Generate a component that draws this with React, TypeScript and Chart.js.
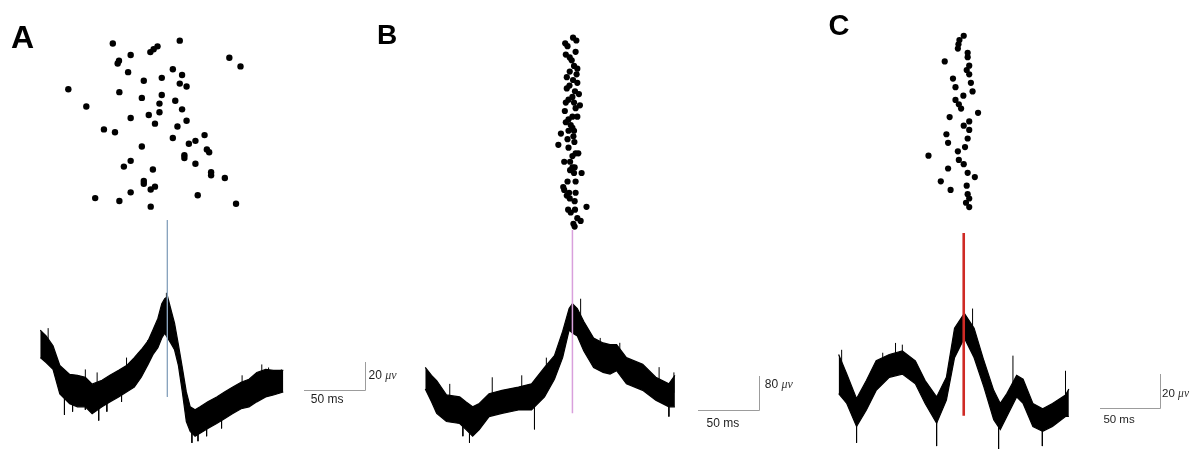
import React, { useEffect, useRef } from "react";
import { Chart, registerables } from "chart.js";
Chart.register(...registerables);

// ---------- Panel A ----------
const rasterATrials = Array.from({ length: 59 }, (_, i) => i + 1);
const rasterATimes = [10.2, -44.9, -8.1, -11.3, -14.0, -30.2, 51.0, -39.8, -40.9, 60.2, 4.5, -32.3, 12.1, -4.6, -19.4, 10.2, 15.8, -81.5, -39.5, -4.6, -21.0, 6.5, -6.5, -66.7, 12.1, -6.5, -15.3, -30.2, 15.8, -10.2, 8.3, -52.2, -43.1, 30.6, 4.5, 23.1, 17.7, -21.0, 32.5, 34.4, 14.0, 14.0, -30.2, 23.1, -35.8, -11.9, 36.0, 36.0, 47.3, -19.4, -19.4, -10.2, -13.7, -30.2, 25.0, -59.4, -39.5, 56.5, -13.7];
const traceATimes = [-104.6, -99.8, -94.1, -88.5, -80.4, -74.0, -67.5, -61.9, -53.8, -47.3, -40.1, -33.6, -27.2, -21.5, -15.9, -11.9, -7.8, -4.6, -2.2, 0.2, 2.7, 5.9, 9.1, 12.3, 15.6, 18.8, 22.8, 26.9, 33.3, 40.6, 47.0, 53.5, 60.7, 67.2, 73.6, 80.9, 87.3, 95.4];
const traceAUpper = [43.4, 39.1, 31.9, 17.6, 11.2, 10.5, 9.1, 4.1, 6.9, 10.5, 14.1, 17.6, 23.4, 29.1, 35.5, 43.4, 51.9, 62.6, 66.2, 67.6, 59.1, 48.4, 32.6, 16.2, -1.6, -12.4, -14.5, -12.4, -8.8, -5.2, -1.6, 1.9, 5.5, 7.6, 12.6, 14.8, 14.1, 14.1];
const traceALower = [23.4, 19.8, 14.8, -3.1, -10.2, -12.4, -12.4, -17.4, -12.4, -8.8, -5.2, -1.6, 1.9, 9.1, 18.4, 25.5, 30.5, 37.6, 41.2, 37.6, 34.1, 29.1, 17.6, -1.6, -23.1, -30.2, -33.8, -31.6, -28.1, -24.5, -21.0, -17.4, -13.8, -12.4, -8.8, -5.2, -3.8, -1.6];
const spikesATimes = [-84.7, -78.0, -67.5, -56.5, -49.8, -37.7, 20.2, 25.2, 32.3, 44.6, -98.1, -67.5, -57.8, -33.6, -23.9, -16.1, -0.8, 61.5, 77.7, 83.3, 93.8];
const spikesABase = [3, 0, -1.6, -3, 0, 5, -22, -22, -18, -12, 30, -1.6, -3, 8, 17, 27, 52, -4, 3, 5, 6];
const spikesATip = [-18.3, -15.9, -14.5, -22.4, -15.9, -8.8, -38.6, -37.4, -33.8, -28.1, 44.8, 14.8, 12.6, 23.4, 26.9, 36.2, 70.5, 10.5, 18.4, 16.2, 14.8];

// ---------- Panel B ----------
const rasterBTrials = [1, 2, 3, 4, 6, 7, 8, 9, 11, 12, 13, 14, 15, 16, 17, 18, 19, 20, 21, 22, 23, 24, 24, 25, 26, 27, 29, 29, 30, 31, 32, 33, 34, 34, 35, 37, 36, 38, 39, 40, 42, 42, 43, 45, 45, 47, 47, 48, 49, 49, 52, 52, 54, 55, 56, 56, 57, 58, 59, 61, 62, 62, 63, 65, 66, 67, 68];
const rasterBTimes = [0.5, 3.2, -5.9, -4.0, 2.6, -5.4, -2.2, -0.6, 1.3, 4.0, -2.2, 3.4, -4.6, 0.5, 4.0, -2.4, -4.6, 2.1, 5.3, 0, -3.2, -5.4, 1.3, 6.1, 2.6, -6.2, 0, 4.0, -3.2, -5.4, -1.4, 0, -3.2, 1.3, -9.4, -4.0, 0.8, 1.6, -11.5, -3.2, 2.6, 4.8, 0, -6.7, -1.9, 0, 1.8, -1.9, 7.5, 1.3, -4.0, 2.6, -7.5, -6.7, -2.7, 2.6, -4.6, -2.2, 1.8, 11.5, -3.5, 2.1, -1.4, 4.0, 6.7, 0.8, 1.8];
const traceBTimes = [-120.2, -115.1, -110.9, -102.9, -92.1, -87.1, -81.5, -76.1, -68.1, -57.5, -44.1, -33.4, -22.8, -14.7, -8.0, -2.7, 0, 4.0, 9.3, 17.3, 25.1, 30.7, 36.1, 44.1, 57.4, 68.1, 78.8, 83.7];
const traceBUpper = [99.0, 80.7, 68.6, 35.0, 30.4, 19.0, 7.5, 15.1, 37.9, 45.7, 53.3, 60.8, 99.0, 126.4, 182.9, 236.1, 247.5, 236.1, 205.7, 167.5, 156.1, 152.2, 152.2, 121.8, 106.5, 76.1, 60.8, 80.7];
const traceBLower = [48.7, 19.0, -7.8, -26.7, -31.3, -45.0, -61.0, -45.7, -15.3, -7.8, 0, 0, 30.4, 71.5, 121.8, 185.8, 179.0, 172.1, 137.1, 99.0, 87.5, 83.7, 91.4, 60.8, 45.7, 22.9, 7.5, 7.5];
const spikesBTimes = [-100.2, -84.1, -89.5, -65.5, -31.0, -41.4, -21.3, 6.7, 22.7, 38.7, 78.8, 82.9, 70.8];
const spikesBBase = [5, -10, -5, 15, 30, 27, 65, 200, 125, 120, 35, 40, 45];
const spikesBTip = [60.8, -76.3, -61.0, 76.1, -45.0, 80.7, 121.8, 258.9, 167.7, 156.3, -15.3, 87.5, 99.7];

// ---------- Panel C ----------
const rasterCTrials = Array.from({ length: 41 }, (_, i) => i + 1);
const rasterCTimes = [0, -3.6, -4.4, -4.9, 3.3, 3.3, -15.9, 4.6, 2.5, 4.6, -9.0, 6.0, -6.9, 7.4, -0.3, -6.9, -4.1, -2.2, 12.0, -11.8, 4.6, 0, 4.6, -14.5, 3.3, -13.1, 1.1, -4.9, -29.5, -4.1, 0, -13.1, 3.3, 9.3, -19.2, 2.5, -11.0, 3.3, 4.6, 1.9, 4.6];
const traceCTimes = [-104.7, -97.9, -89.7, -81.5, -73.3, -62.3, -51.4, -40.5, -32.3, -22.7, -14.5, -7.7, 0.5, 8.7, 16.9, 25.1, 30.6, 36.1, 44.3, 49.7, 57.9, 66.1, 74.3, 85.2, 88.0];
const traceCUpper = [31.4, 20.0, 5.7, 16.2, 27.7, 31.4, 33.4, 27.7, 16.2, 6.7, 18.1, 46.7, 55.3, 46.7, 27.7, 10.5, 2.9, 8.6, 19.3, 17.0, 2.9, -0.2, 2.9, 7.8, 11.3];
const traceCLower = [8.6, 2.9, -10.5, -0.9, 10.5, 18.1, 20.0, 14.3, 2.9, -8.6, 4.8, 29.5, 41.0, 29.5, 12.4, -6.6, -12.3, -4.7, 6.7, 2.9, -10.5, -13.3, -10.5, -4.7, -4.7];
const spikesCTimes = [-89.7, -22.7, 29.2, 65.8, 85.2, 41.2, 7.4, -51.4, -57.1, -102.2, -67.8];
const spikesCBase = [-2, -1, -4, -6, 3, 10, 42, 27, 26, 18, 22];
const spikesCTip = [-20.0, -21.9, -23.6, -21.9, 21.9, 30.7, 58.1, 37.1, 38.1, 34.1, 32.4];

// scale bar sizes and labels
const timeBarMs = 50;
const voltBars = [20, 80, 20];
const panelLetters = ["A", "B", "C"];

const H = 453;

type PanelCfg = {
  left: number; width: number;
  zeroPx: number; pxPerMs: number;
  uvZeroPx: number; pxPerUv: number;
  trial1Px: number; trialStep: number;
  rasterTrials: number[]; rasterTimes: number[]; dotR: number;
  traceTimes: number[]; upper: number[]; lower: number[];
  spikeTimes: number[]; spikeBase: number[]; spikeTip: number[];
  markerTop: number; markerBottom: number; markerColor: string; markerWidth: number;
  barX0: number; barDy: number;
  vLabelDx: number; vLabelDy: number; hLabelDx: number; hLabelDy: number; fontSize: number;
};

const scaleBarPlugin = {
  id: "scaleBar",
  afterDatasetsDraw(chart: any, _args: any, opts: any) {
    if (!opts || opts.x0 === undefined) return;
    const ctx = chart.ctx;
    const xs = chart.scales.x, ys = chart.scales.y;
    const x0 = xs.getPixelForValue(opts.x0);
    const x1 = xs.getPixelForValue(opts.x0 + opts.dx);
    const y0 = ys.getPixelForValue(0);
    const y1 = ys.getPixelForValue(opts.dy);
    ctx.save();
    ctx.strokeStyle = "#9c9c9c";
    ctx.lineWidth = 1;
    ctx.beginPath();
    ctx.moveTo(Math.round(x0), Math.round(y0) + 0.5);
    ctx.lineTo(Math.round(x1) + 0.5, Math.round(y0) + 0.5);
    ctx.lineTo(Math.round(x1) + 0.5, Math.round(y1));
    ctx.stroke();
    ctx.fillStyle = "#1e1e1e";
    ctx.textBaseline = "middle";
    const fs = opts.fontSize;
    const vy = (y0 + y1) / 2 + opts.vLabelDy;
    ctx.font = `${fs}px "Liberation Sans", Arial, sans-serif`;
    const num = `${opts.dy} `;
    ctx.fillText(num, x1 + opts.vLabelDx, vy);
    const w = ctx.measureText(num).width;
    ctx.font = `italic ${fs}px "Liberation Serif", "DejaVu Serif", serif`;
    ctx.fillStyle = "#333";
    ctx.fillText("\u03bcv", x1 + opts.vLabelDx + w, vy);
    ctx.fillStyle = "#1e1e1e";
    ctx.font = `${fs}px "Liberation Sans", Arial, sans-serif`;
    ctx.fillText(`${opts.dx} ms`, x0 + opts.hLabelDx, y0 + opts.hLabelDy);
    ctx.restore();
  },
};

function Panel({ cfg }: { cfg: PanelCfg }) {
  const ref = useRef<HTMLCanvasElement | null>(null);
  useEffect(() => {
    if (!ref.current) return;
    const xMin = -cfg.zeroPx / cfg.pxPerMs;
    const xMax = (cfg.width - cfg.zeroPx) / cfg.pxPerMs;
    const yMax = cfg.uvZeroPx / cfg.pxPerUv;
    const yMin = -(H - cfg.uvZeroPx) / cfg.pxPerUv;
    const rMin = 1 - cfg.trial1Px / cfg.trialStep;
    const rMax = 1 + (H - cfg.trial1Px) / cfg.trialStep;
    const upper = cfg.traceTimes.map((t, i) => ({ x: t, y: cfg.upper[i] }));
    const lower = cfg.traceTimes.map((t, i) => ({ x: t, y: cfg.lower[i] }));
    const raster = cfg.rasterTimes.map((t, i) => ({ x: t, y: cfg.rasterTrials[i] }));
    const spikes = cfg.spikeTimes.flatMap((t, i) => [
      { x: t, y: cfg.spikeBase[i] },
      { x: t, y: cfg.spikeTip[i] },
      { x: t, y: null },
    ]);
    const chart = new Chart(ref.current, {
      type: "scatter",
      data: {
        datasets: [
          {
            type: "line", label: "marker",
            data: [{ x: 0, y: cfg.markerTop }, { x: 0, y: cfg.markerBottom }],
            yAxisID: "y", borderColor: cfg.markerColor, borderWidth: cfg.markerWidth,
            pointRadius: 0, showLine: true, fill: false, order: 0,
          } as any,
          {
            type: "line", label: "upper", data: upper, yAxisID: "y",
            borderColor: "#000", borderWidth: 1.2, pointRadius: 0, showLine: true,
            fill: "+1", backgroundColor: "#000", tension: 0, order: 1,
          } as any,
          {
            type: "line", label: "lower", data: lower, yAxisID: "y",
            borderColor: "#000", borderWidth: 1.2, pointRadius: 0, showLine: true,
            fill: false, tension: 0, order: 2,
          } as any,
          {
            type: "line", label: "spikes", data: spikes, yAxisID: "y",
            borderColor: "#000", borderWidth: 1, pointRadius: 0, showLine: true,
            spanGaps: false, fill: false, tension: 0, order: 2,
          } as any,
          {
            type: "scatter", label: "raster", data: raster, yAxisID: "yR",
            backgroundColor: "#000", borderColor: "#000", borderWidth: 0,
            pointRadius: cfg.dotR, order: 3,
          } as any,
        ],
      },
      options: {
        animation: false,
        responsive: false,
        devicePixelRatio: 1,
        layout: { padding: 0 },
        events: [],
        scales: {
          x: { type: "linear", display: false, min: xMin, max: xMax },
          y: { type: "linear", display: false, min: yMin, max: yMax },
          yR: { type: "linear", display: false, min: rMin, max: rMax, reverse: true },
        },
        plugins: {
          legend: { display: false },
          tooltip: { enabled: false },
          scaleBar: {
            x0: cfg.barX0, dx: timeBarMs, dy: cfg.barDy,
            vLabelDx: cfg.vLabelDx, vLabelDy: cfg.vLabelDy,
            hLabelDx: cfg.hLabelDx, hLabelDy: cfg.hLabelDy, fontSize: cfg.fontSize,
          },
        } as any,
      },
      plugins: [scaleBarPlugin],
    });
    return () => chart.destroy();
  }, [cfg]);
  return (
    <canvas
      ref={ref}
      width={cfg.width}
      height={H}
      style={{ position: "absolute", left: cfg.left, top: 0, width: cfg.width, height: H, display: "block" }}
    />
  );
}

const panels: PanelCfg[] = [
  {
    left: 0, width: 400, zeroPx: 166.7, pxPerMs: 1.24, uvZeroPx: 392.7, pxPerUv: 1.4,
    trial1Px: 37.3, trialStep: 2.914, rasterTrials: rasterATrials, rasterTimes: rasterATimes, dotR: 3.2,
    traceTimes: traceATimes, upper: traceAUpper, lower: traceALower,
    spikeTimes: spikesATimes, spikeBase: spikesABase, spikeTip: spikesATip,
    markerTop: 123.4, markerBottom: -5.2, markerColor: "#8aa4bf", markerWidth: 1,
    barX0: 112.3, barDy: voltBars[0], vLabelDx: 4, vLabelDy: 0, hLabelDx: 7, hLabelDy: 10, fontSize: 12,
  },
  {
    left: 400, width: 420, zeroPx: 171.7, pxPerMs: 1.248, uvZeroPx: 413.3, pxPerUv: 0.4375,
    trial1Px: 34.3, trialStep: 2.87, rasterTrials: rasterBTrials, rasterTimes: rasterBTimes, dotR: 3.1,
    traceTimes: traceBTimes, upper: traceBUpper, lower: traceBLower,
    spikeTimes: spikesBTimes, spikeBase: spikesBBase, spikeTip: spikesBTip,
    markerTop: 419.0, markerBottom: -7.8, markerColor: "#d9a0dc", markerWidth: 1.5,
    barX0: 102.2, barDy: voltBars[1], vLabelDx: 6, vLabelDy: -8, hLabelDx: 9, hLabelDy: 14, fontSize: 12,
  },
  {
    left: 820, width: 384, zeroPx: 142.7, pxPerMs: 1.22, uvZeroPx: 411.7, pxPerUv: 1.75,
    trial1Px: 32.3, trialStep: 4.36, rasterTrials: rasterCTrials, rasterTimes: rasterCTimes, dotR: 3.1,
    traceTimes: traceCTimes, upper: traceCUpper, lower: traceCLower,
    spikeTimes: spikesCTimes, spikeBase: spikesCBase, spikeTip: spikesCTip,
    markerTop: 102.1, markerBottom: -4.3, markerColor: "#cf2a25", markerWidth: 2.6,
    barX0: 114.4, barDy: voltBars[2], vLabelDx: 2, vLabelDy: 2.5, hLabelDx: 3, hLabelDy: 11, fontSize: 11.5,
  },
];

const letterStyles = [
  { left: 11, top: 21, fontSize: 32 },
  { left: 377, top: 21, fontSize: 28 },
  { left: 828.5, top: 11, fontSize: 29 },
];

export default function App() {
  return (
    <div style={{ position: "absolute", left: 0, top: 0, width: 1204, height: H, background: "#fff", overflow: "hidden" }}>
      {panels.map((p, i) => (
        <Panel key={i} cfg={p} />
      ))}
      {panelLetters.map((l, i) => (
        <div
          key={l}
          style={{
            position: "absolute", left: letterStyles[i].left, top: letterStyles[i].top,
            fontFamily: '"Liberation Sans", Arial, sans-serif', fontWeight: "bold",
            fontSize: letterStyles[i].fontSize, lineHeight: 1, color: "#000",
          }}
        >
          {l}
        </div>
      ))}
    </div>
  );
}
